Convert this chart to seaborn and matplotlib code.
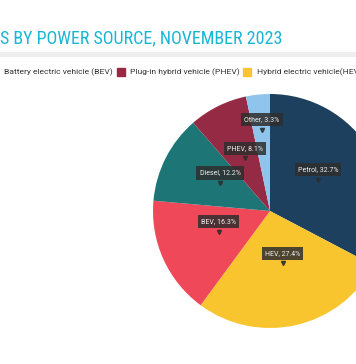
import numpy as np
import matplotlib
matplotlib.use("Agg")
import matplotlib.pyplot as plt
import seaborn as sns
from matplotlib import font_manager

# Data
sources = ["Petrol", "HEV", "BEV", "Diesel", "PHEV", "Other"]
shares = [32.7, 27.4, 16.3, 12.2, 8.1, 3.3]
colors = ["#1d405f", "#f9c52e", "#ef4859", "#1e7576", "#952a44", "#8fc5ec"]
title_text = "S BY POWER SOURCE, NOVEMBER 2023"
legend_labels = ["Battery electric vehicle (BEV)", "Plug-in hybrid vehicle (PHEV)",
                 "Hybrid electric vehicle(HEV)"]
legend_colors = ["#ef4859", "#952a44", "#f9c52e"]

sns.set_style("white")
plt.rcParams['font.family'] = ['Roboto', 'DejaVu Sans']

names = {f.name for f in font_manager.fontManager.ttflist}
narrow = None
for cand in ["Liberation Sans Narrow", "DejaVu Sans Condensed", "Roboto Condensed"]:
    if cand in names:
        narrow = cand
        break

W, H = 356, 364
fig = plt.figure(figsize=(W / 100, H / 100), dpi=100)
fig.patch.set_facecolor("white")

# Title (cropped)
if narrow:
    t = fig.text(0 / W, 1 - 39 / H, title_text, fontsize=14, color="#18b6d6",
                 family=[narrow, 'Roboto'], va="center", ha="left")
else:
    t = fig.text(0 / W, 1 - 39 / H, title_text, fontsize=14, color="#18b6d6",
                 family=['Roboto'], stretch='condensed', va="center", ha="left")
fig.canvas.draw()
bb = t.get_window_extent()
target_w = 285
if bb.width > target_w + 2:
    fs = 14 * target_w / bb.width
    t.set_fontsize(fs)
    t.set_y(1 - 38.5 / H)

# gray band
band = fig.add_axes([0, 1 - 57 / H, 1, 5 / H])
band.set_facecolor("#efefef")
band.set_xticks([]); band.set_yticks([])
for s in band.spines.values():
    s.set_visible(False)

# Legend row (cropped)
legend_text_x = [4, 130, 257]
legend_marker_x = [-10, 117, 243]
for lx, mx, lab, col in zip(legend_text_x, legend_marker_x, legend_labels, legend_colors):
    fig.text(lx / W, 1 - 72 / H, lab, fontsize=6.1, color="#333333", va="center", ha="left")
    fig.patches.append(plt.Rectangle((mx / W, 1 - 76 / H), 8 / W, 8 / H,
                                     transform=fig.transFigure, color=col, figure=fig))

# Pie
cx, cy, r = 270, 211, 117
ax = fig.add_axes([(cx - r) / W, (H - cy - r) / H, 2 * r / W, 2 * r / H])
wedges, _ = ax.pie(shares, colors=colors, startangle=90, counterclock=False,
                   radius=1, wedgeprops=dict(linewidth=0))
ax.set_xlim(-1, 1)
ax.set_ylim(-1, 1)
ax.set_aspect("equal")
ax.axis("off")

cum = np.cumsum([0] + shares[:-1])
for name, val, c0 in zip(sources, shares, cum):
    mid = np.deg2rad(90 - (c0 + val / 2) * 3.6)
    f = 0.68 if val < 5 else 0.48
    tx, ty = f * np.cos(mid), f * np.sin(mid)
    ax.annotate(f"{name}, {val}%", xy=(tx, ty), xytext=(0, 9), textcoords="offset points",
                ha="center", va="center", fontsize=5, color="#f0f0f0",
                bbox=dict(boxstyle="square,pad=0.45", fc="#2e2e2e", ec="none", alpha=0.85))
    ax.plot([tx], [ty + 0.02], marker="v", color="#2e2e2e", markersize=3, alpha=0.85)

fig.savefig("out.png", dpi=100)
